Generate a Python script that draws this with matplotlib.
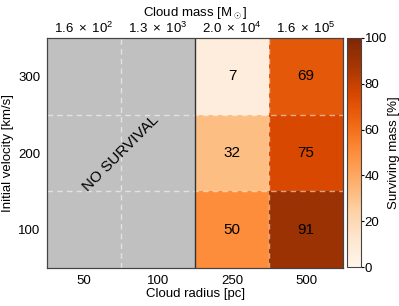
import numpy as np
import matplotlib
matplotlib.use('Agg')
import matplotlib.pyplot as plt

plt.rcParams['font.family'] = ['Liberation Sans', 'DejaVu Sans']
plt.rcParams['mathtext.fontset'] = 'custom'
plt.rcParams['mathtext.rm'] = 'Liberation Sans'
plt.rcParams['mathtext.it'] = 'Liberation Sans:italic'
plt.rcParams['mathtext.sf'] = 'Liberation Sans'
plt.rcParams['font.size'] = 9.5

# data
radius_labels = ['50', '100', '250', '500']
mass_labels = [r'$\mathregular{1.6\ \times\ 10^{2}}$', r'$\mathregular{1.3\ \times\ 10^{3}}$',
               r'$\mathregular{2.0\ \times\ 10^{4}}$', r'$\mathregular{1.6\ \times\ 10^{5}}$']
velocity_labels = ['100', '200', '300']
# rows: velocity 100, 200, 300 ; columns: radius 50, 100, 250, 500
surviving = np.array([
    [np.nan, np.nan, 50, 91],
    [np.nan, np.nan, 32, 75],
    [np.nan, np.nan, 7, 69],
])

fig = plt.figure(figsize=(3.99, 3.06), dpi=100)
ax = fig.add_axes([0.118, 0.124, 0.742, 0.752])
cax = fig.add_axes([0.870, 0.127, 0.035, 0.749])

cmap = plt.get_cmap('Oranges').copy()
cmap.set_bad('#c0c0c0')
masked = np.ma.masked_invalid(surviving)
mesh = ax.pcolormesh(np.arange(5), np.arange(4), masked, cmap=cmap, vmin=0, vmax=100)

# value labels
for i in range(surviving.shape[0]):
    for j in range(surviving.shape[1]):
        if not np.isnan(surviving[i, j]):
            ax.text(j + 0.5, i + 0.5, f"{int(surviving[i, j])}", ha='center', va='center',
                    fontsize=11, color='black')

ax.text(1.0, 1.5, 'NO SURVIVAL', rotation=45, ha='center', va='center', fontsize=11)

# dashed grid at cell edges
for x in [1, 3]:
    ax.axvline(x, color='white', ls=(0, (4, 3)), lw=1.0, alpha=0.55)
for y in [1, 2]:
    ax.axhline(y, color='white', ls=(0, (4, 3)), lw=1.0, alpha=0.55)
ax.axvline(2, color='#333333', lw=1.0)

ax.set_xlim(0, 4)
ax.set_ylim(0, 3)
ax.set_xticks(np.arange(4) + 0.5)
ax.set_xticklabels(radius_labels)
ax.set_yticks(np.arange(3) + 0.5)
ax.set_yticklabels(velocity_labels)
ax.tick_params(length=0, pad=5)
ax.set_xlabel('Cloud radius [pc]', labelpad=1)
ax.set_ylabel('Initial velocity [km/s]', labelpad=3)
for s in ax.spines.values():
    s.set_color('#444444')

top = ax.twiny()
top.set_xlim(0, 4)
top.set_xticks(np.arange(4) + 0.5)
top.set_xticklabels(mass_labels)
top.tick_params(length=0, pad=1.5)
top.set_xlabel(r'Cloud mass [M$_\odot$]', labelpad=3.5)
for s in top.spines.values():
    s.set_color('#444444')

cb = fig.colorbar(mesh, cax=cax)
cb.set_ticks([0, 20, 40, 60, 80, 100])
cb.set_label('Surviving mass [%]', labelpad=1)
cb.ax.tick_params(length=2, pad=0.5)
cb.outline.set_edgecolor('#444444')

fig.savefig('out.png', dpi=100)
